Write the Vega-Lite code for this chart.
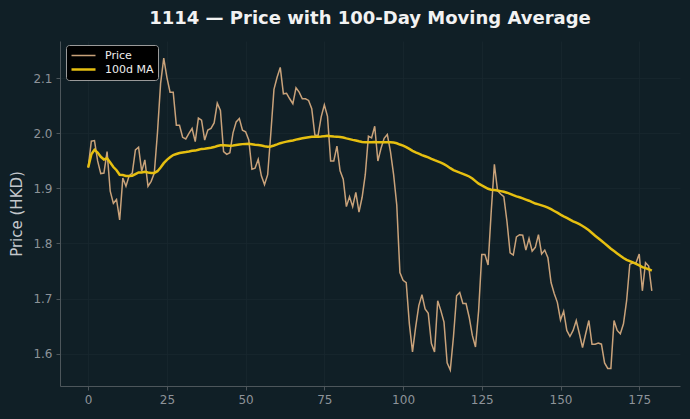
{
  "$schema": "https://vega.github.io/schema/vega-lite/v6.json",
  "width": 620,
  "height": 345,
  "autosize": {"type": "none"},
  "padding": {"left": 60, "top": 41, "right": 10, "bottom": 33},
  "background": "#101f26",
  "title": {
    "text": "1114 — Price with 100-Day Moving Average",
    "font": "DejaVu Sans",
    "fontSize": 18,
    "fontWeight": "bold",
    "color": "#f2f2f2",
    "anchor": "middle",
    "offset": 13
  },
  "config": {
    "view": {"stroke": null},
    "axis": {
      "domainColor": "#4d565b",
      "tickColor": "#4d565b",
      "tickSize": 4,
      "labelColor": "#8d9399",
      "labelFont": "DejaVu Sans",
      "labelFontSize": 12,
      "labelPadding": 4,
      "gridColor": "#18272e",
      "gridWidth": 0.8,
      "titleColor": "#c4c8cc",
      "titleFont": "DejaVu Sans",
      "titleFontSize": 15,
      "titleFontWeight": "normal"
    }
  },
  "data": {
    "values": [
      {"day": 0, "Price": 1.938}, {"day": 1, "Price": 1.986}, {"day": 2, "Price": 1.987}, {"day": 3, "Price": 1.95},
      {"day": 4, "Price": 1.927}, {"day": 5, "Price": 1.928}, {"day": 6, "Price": 1.967}, {"day": 7, "Price": 1.895},
      {"day": 8, "Price": 1.873}, {"day": 9, "Price": 1.88}, {"day": 10, "Price": 1.843}, {"day": 11, "Price": 1.919},
      {"day": 12, "Price": 1.904}, {"day": 13, "Price": 1.923}, {"day": 14, "Price": 1.928}, {"day": 15, "Price": 1.97},
      {"day": 16, "Price": 1.975}, {"day": 17, "Price": 1.931}, {"day": 18, "Price": 1.952}, {"day": 19, "Price": 1.904},
      {"day": 20, "Price": 1.913}, {"day": 21, "Price": 1.928}, {"day": 22, "Price": 2.001}, {"day": 23, "Price": 2.091},
      {"day": 24, "Price": 2.137}, {"day": 25, "Price": 2.102}, {"day": 26, "Price": 2.075}, {"day": 27, "Price": 2.075},
      {"day": 28, "Price": 2.015}, {"day": 29, "Price": 2.015}, {"day": 30, "Price": 1.993}, {"day": 31, "Price": 1.99},
      {"day": 32, "Price": 2.0}, {"day": 33, "Price": 2.009}, {"day": 34, "Price": 1.985}, {"day": 35, "Price": 2.028},
      {"day": 36, "Price": 2.024}, {"day": 37, "Price": 1.988}, {"day": 38, "Price": 2.006}, {"day": 39, "Price": 2.009},
      {"day": 40, "Price": 2.019}, {"day": 41, "Price": 2.055}, {"day": 42, "Price": 2.042}, {"day": 43, "Price": 1.967},
      {"day": 44, "Price": 1.962}, {"day": 45, "Price": 1.965}, {"day": 46, "Price": 2.001}, {"day": 47, "Price": 2.021},
      {"day": 48, "Price": 2.027}, {"day": 49, "Price": 2.006}, {"day": 50, "Price": 2.003}, {"day": 51, "Price": 1.988},
      {"day": 52, "Price": 1.935}, {"day": 53, "Price": 1.937}, {"day": 54, "Price": 1.953}, {"day": 55, "Price": 1.923},
      {"day": 56, "Price": 1.907}, {"day": 57, "Price": 1.925}, {"day": 58, "Price": 2.0}, {"day": 59, "Price": 2.08},
      {"day": 60, "Price": 2.102}, {"day": 61, "Price": 2.12}, {"day": 62, "Price": 2.072}, {"day": 63, "Price": 2.073},
      {"day": 64, "Price": 2.063}, {"day": 65, "Price": 2.054}, {"day": 66, "Price": 2.083}, {"day": 67, "Price": 2.075},
      {"day": 68, "Price": 2.063}, {"day": 69, "Price": 2.063}, {"day": 70, "Price": 2.06}, {"day": 71, "Price": 2.045},
      {"day": 72, "Price": 1.997}, {"day": 73, "Price": 1.996}, {"day": 74, "Price": 2.03}, {"day": 75, "Price": 2.052},
      {"day": 76, "Price": 2.031}, {"day": 77, "Price": 1.95}, {"day": 78, "Price": 1.95}, {"day": 79, "Price": 1.977},
      {"day": 80, "Price": 1.932}, {"day": 81, "Price": 1.917}, {"day": 82, "Price": 1.867}, {"day": 83, "Price": 1.885},
      {"day": 84, "Price": 1.867}, {"day": 85, "Price": 1.893}, {"day": 86, "Price": 1.857}, {"day": 87, "Price": 1.884},
      {"day": 88, "Price": 1.925}, {"day": 89, "Price": 1.995}, {"day": 90, "Price": 1.992}, {"day": 91, "Price": 2.013},
      {"day": 92, "Price": 1.95}, {"day": 93, "Price": 1.973}, {"day": 94, "Price": 1.991}, {"day": 95, "Price": 1.998},
      {"day": 96, "Price": 1.967}, {"day": 97, "Price": 1.925}, {"day": 98, "Price": 1.87}, {"day": 99, "Price": 1.747},
      {"day": 100, "Price": 1.733}, {"day": 101, "Price": 1.729}, {"day": 102, "Price": 1.654}, {"day": 103, "Price": 1.603},
      {"day": 104, "Price": 1.648}, {"day": 105, "Price": 1.687}, {"day": 106, "Price": 1.707}, {"day": 107, "Price": 1.681},
      {"day": 108, "Price": 1.673}, {"day": 109, "Price": 1.618}, {"day": 110, "Price": 1.603}, {"day": 111, "Price": 1.696},
      {"day": 112, "Price": 1.678}, {"day": 113, "Price": 1.657}, {"day": 114, "Price": 1.583}, {"day": 115, "Price": 1.57},
      {"day": 116, "Price": 1.63}, {"day": 117, "Price": 1.705}, {"day": 118, "Price": 1.711}, {"day": 119, "Price": 1.691},
      {"day": 120, "Price": 1.691}, {"day": 121, "Price": 1.666}, {"day": 122, "Price": 1.633}, {"day": 123, "Price": 1.612},
      {"day": 124, "Price": 1.678}, {"day": 125, "Price": 1.78}, {"day": 126, "Price": 1.78}, {"day": 127, "Price": 1.761},
      {"day": 128, "Price": 1.858}, {"day": 129, "Price": 1.944}, {"day": 130, "Price": 1.896}, {"day": 131, "Price": 1.89},
      {"day": 132, "Price": 1.885}, {"day": 133, "Price": 1.84}, {"day": 134, "Price": 1.783}, {"day": 135, "Price": 1.779},
      {"day": 136, "Price": 1.812}, {"day": 137, "Price": 1.816}, {"day": 138, "Price": 1.815}, {"day": 139, "Price": 1.788},
      {"day": 140, "Price": 1.809}, {"day": 141, "Price": 1.786}, {"day": 142, "Price": 1.793}, {"day": 143, "Price": 1.816},
      {"day": 144, "Price": 1.781}, {"day": 145, "Price": 1.788}, {"day": 146, "Price": 1.774}, {"day": 147, "Price": 1.729},
      {"day": 148, "Price": 1.709}, {"day": 149, "Price": 1.693}, {"day": 150, "Price": 1.661}, {"day": 151, "Price": 1.677},
      {"day": 152, "Price": 1.642}, {"day": 153, "Price": 1.631}, {"day": 154, "Price": 1.642}, {"day": 155, "Price": 1.66},
      {"day": 156, "Price": 1.636}, {"day": 157, "Price": 1.611}, {"day": 158, "Price": 1.636}, {"day": 159, "Price": 1.66},
      {"day": 160, "Price": 1.617}, {"day": 161, "Price": 1.617}, {"day": 162, "Price": 1.619}, {"day": 163, "Price": 1.617},
      {"day": 164, "Price": 1.583}, {"day": 165, "Price": 1.573}, {"day": 166, "Price": 1.573}, {"day": 167, "Price": 1.66},
      {"day": 168, "Price": 1.642}, {"day": 169, "Price": 1.636}, {"day": 170, "Price": 1.654}, {"day": 171, "Price": 1.696},
      {"day": 172, "Price": 1.762}, {"day": 173, "Price": 1.765}, {"day": 174, "Price": 1.765}, {"day": 175, "Price": 1.781},
      {"day": 176, "Price": 1.714}, {"day": 177, "Price": 1.765}, {"day": 178, "Price": 1.759}, {"day": 179, "Price": 1.714}
    ]
  },
  "transform": [
    {"window": [{"op": "mean", "field": "Price", "as": "100d MA"}], "frame": [-99, 0], "sort": [{"field": "day"}]},
    {"fold": ["Price", "100d MA"], "as": ["series", "value"]}
  ],
  "mark": {"type": "line", "interpolate": "linear"},
  "encoding": {
    "x": {
      "field": "day",
      "type": "quantitative",
      "scale": {"domain": [-8.95, 187.95], "nice": false, "zero": false},
      "axis": {"values": [0, 25, 50, 75, 100, 125, 150, 175], "title": null, "grid": true}
    },
    "y": {
      "field": "value",
      "type": "quantitative",
      "scale": {"domain": [1.541, 2.168], "nice": false, "zero": false},
      "axis": {"values": [1.6, 1.7, 1.8, 1.9, 2.0, 2.1], "format": ".1f", "title": "Price (HKD)", "grid": true, "titlePadding": 8}
    },
    "color": {
      "field": "series",
      "type": "nominal",
      "scale": {"domain": ["Price", "100d MA"], "range": ["#c9a27a", "#e6bf10"]},
      "legend": {
        "title": null,
        "orient": "none",
        "legendX": 6,
        "legendY": 4,
        "fillColor": "#000000",
        "strokeColor": "#9a9a9a",
        "cornerRadius": 3,
        "padding": 4,
        "symbolType": "stroke",
        "symbolSize": 576,
        "clipHeight": 13,
        "labelColor": "#eeeeee",
        "labelFont": "DejaVu Sans",
        "labelFontSize": 11,
        "labelOffset": 8,
        "rowPadding": 1
      }
    },
    "strokeWidth": {
      "field": "series",
      "type": "nominal",
      "scale": {"domain": ["Price", "100d MA"], "range": [1.5, 2.5]}
    }
  }
}
